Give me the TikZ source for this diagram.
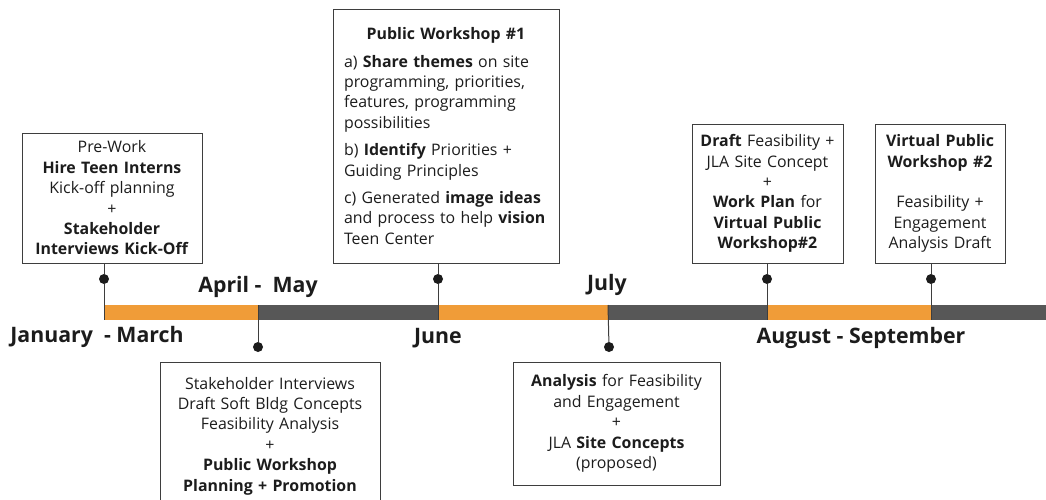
\documentclass[tikz,border=0pt]{standalone}
\usepackage{fontspec}
\setmainfont{Open Sans}
\usepackage{tikz}
\usetikzlibrary{calc}
\usetikzlibrary{positioning}

\definecolor{barorange}{HTML}{F09C38}
\definecolor{bargray}{HTML}{575757}
\definecolor{ink}{HTML}{1C1C1C}

\begin{document}
\begin{tikzpicture}[x=1pt,y=-1pt,
	box/.style={draw=ink!85, line width=0.8pt, inner sep=2pt, align=center, text=ink,
		font=\fontsize{15.9}{20.4}\selectfont},
	month/.style={text=ink, font=\fontsize{21.3}{24}\selectfont\bfseries},
	pin/.style={circle, fill=ink, inner sep=0pt, minimum size=10pt},
	stem/.style={draw=ink!85, line width=1pt}]
	\useasboundingbox (0,0) rectangle (1046,499);

	% timeline bar
	\fill[barorange] (104,305) rectangle (258,320);
	\fill[bargray]   (258,305) rectangle (438,320);
	\fill[barorange] (438,305) rectangle (608,320);
	\fill[bargray]   (608,305) rectangle (767,320);
	\fill[barorange] (767,305) rectangle (931,320);
	\fill[bargray]   (931,305) rectangle (1046,320);

	% points on the bar
	\coordinate (t1) at (104,320);
	\coordinate (t2) at (258,305);
	\coordinate (t3) at (438,320);
	\coordinate (t4) at (608,305);
	\coordinate (t5) at (767,320);
	\coordinate (t6) at (931,320);

	% pins
	\node[pin] (p1) at (104,279) {};
	\node[pin] (p2) at (258,347) {};
	\node[pin] (p3) at (438,279) {};
	\node[pin] (p4) at (609,347) {};
	\node[pin] (p5) at (767,279) {};
	\node[pin] (p6) at (931,279) {};

	% months
	\node[month] (jan) at (97,337) {January\ \ - March};
	\node[month] (apr) at (258,287) {April -\ \ May};
	\node[month] (jun) at (438,338) {June};
	\node[month] (jul) at (607,285) {July};
	\node[month] (aug) at (861,338) {August - September};

	% boxes
	\node[box, minimum width=180pt, minimum height=130pt, text width=176pt] (b1) at (112,198)
		{Pre-Work\\ \textbf{Hire Teen Interns}\\ Kick-off planning\\ +\\ \textbf{Stakeholder}\\ \textbf{Interviews Kick-Off}};
	\node[box, minimum width=226pt, minimum height=254pt, text width=204pt, align=left] (b2) at (446,136)
		{\hfill\textbf{Public Workshop \#1}\hfill\null\\[7pt]
		 a) \textbf{Share themes} on site\\ programming, priorities,\\ features, programming\\ possibilities\\[7pt]
		 b) \textbf{Identify} Priorities +\\ Guiding Principles\\[7pt]
		 c) Generated \textbf{image ideas}\\ and process to help \textbf{vision}\\ Teen Center};
	\node[box, minimum width=151pt, minimum height=139pt, text width=147pt] (b3) at (767.5,193.5)
		{\textbf{Draft} Feasibility +\\ JLA Site Concept\\ +\\ \textbf{Work Plan} for\\ \textbf{Virtual Public}\\ \textbf{Workshop\#2}};
	\node[box, minimum width=130pt, minimum height=139pt, text width=126pt] (b4) at (940,193.5)
		{\textbf{Virtual Public}\\ \textbf{Workshop \#2}\\[20.4pt] Feasibility +\\ Engagement\\ Analysis Draft};
	\node[box, minimum width=220pt, minimum height=148pt, text width=216pt] (b5) at (270,436)
		{Stakeholder Interviews\\ Draft Soft Bldg Concepts\\ Feasibility Analysis\\ +\\ \textbf{Public Workshop}\\ \textbf{Planning + Promotion}};
	\node[box, minimum width=207pt, minimum height=123pt, text width=203pt] (b6) at (616.5,423.5)
		{\textbf{Analysis} for Feasibility\\ and Engagement\\ +\\ JLA \textbf{Site Concepts}\\ (proposed)};

	% stems
	\draw[stem] (p1 |- b1.south) -- (p1) -- (t1);
	\draw[stem] (p3 |- b2.south) -- (p3) -- (t3);
	\draw[stem] (p5 |- b3.south) -- (p5) -- (t5);
	\draw[stem] (p6 |- b4.south) -- (p6) -- (t6);
	\draw[stem] (t2) -- (p2);
	\draw[stem] (t4) -- (p4);
\end{tikzpicture}
\end{document}
